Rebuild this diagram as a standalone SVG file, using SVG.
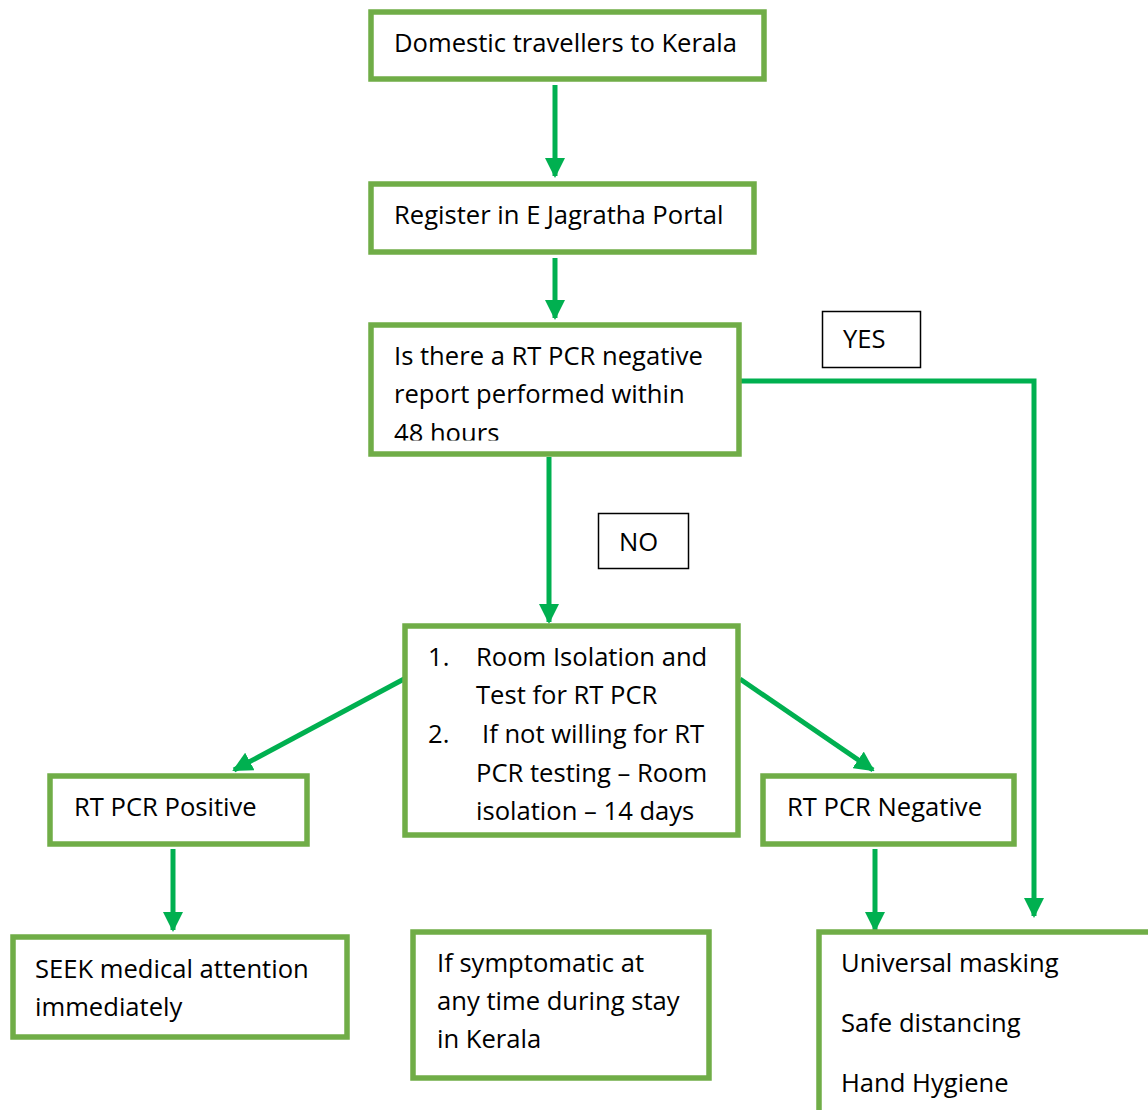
<svg xmlns="http://www.w3.org/2000/svg" width="1148" height="1110" viewBox="0 0 1148 1110">
<style>
.box{fill:#fff;stroke:#70AD47;stroke-width:5.5}
.lbl{fill:#fff;stroke:#000;stroke-width:1.5}
.t{font-family:"Open Sans",Lato,"Liberation Sans",sans-serif;font-size:25.6px;fill:#000}
.c{stroke:#00B050;stroke-width:5;fill:none}
</style>
<defs>
<marker id="ah" markerWidth="4" markerHeight="4" refX="3.6" refY="2" orient="auto" markerUnits="strokeWidth" viewBox="0 0 4 4">
<path d="M0,0 L4,2 L0,4 Z" fill="#00B050"/>
</marker>
<clipPath id="clip3"><rect x="371" y="325" width="368" height="115.5"/></clipPath>
</defs>
<g id="connectors">
<line class="c" x1="555" y1="85" x2="555" y2="176" marker-end="url(#ah)"/>
<line class="c" x1="555" y1="258" x2="555" y2="318" marker-end="url(#ah)"/>
<polyline class="c" points="741,381 1034,381 1034,916" marker-end="url(#ah)"/>
<line class="c" x1="549" y1="457" x2="549" y2="622" marker-end="url(#ah)"/>
<line class="c" x1="404" y1="679" x2="234" y2="770" marker-end="url(#ah)"/>
<line class="c" x1="740" y1="679" x2="873" y2="770" marker-end="url(#ah)"/>
<line class="c" x1="173" y1="849" x2="173" y2="930" marker-end="url(#ah)"/>
<line class="c" x1="875" y1="849" x2="875" y2="930" marker-end="url(#ah)"/>
</g>
<g id="n1"><rect class="box" x="371" y="12" width="393" height="67"/><text class="t" x="394" y="52">Domestic travellers to Kerala</text></g>
<g id="n2"><rect class="box" x="371" y="184" width="383" height="68"/><text class="t" x="394" y="224">Register in E Jagratha Portal</text></g>
<g id="n3"><rect class="box" x="371" y="325" width="368" height="129"/>
<g clip-path="url(#clip3)"><text class="t" x="394" y="365">Is there a RT PCR negative</text><text class="t" x="394" y="403">report performed within</text><text class="t" x="394" y="442">48 hours</text></g></g>
<g id="yes"><rect class="lbl" x="822.5" y="311.5" width="98" height="56"/><text class="t" x="843" y="348">YES</text></g>
<g id="no"><rect class="lbl" x="598.5" y="513.5" width="90" height="55"/><text class="t" x="619" y="551">NO</text></g>
<g id="n4"><rect class="box" x="405" y="626" width="333" height="209"/>
<text class="t" x="428" y="666">1.</text><text class="t" x="476" y="666">Room Isolation and</text>
<text class="t" x="476" y="704">Test for RT PCR</text>
<text class="t" x="428" y="743">2.</text><text class="t" x="482" y="743">If not willing for RT</text>
<text class="t" x="476" y="782">PCR testing – Room</text>
<text class="t" x="476" y="820">isolation – 14 days</text></g>
<g id="n5"><rect class="box" x="50" y="776" width="257" height="68"/><text class="t" x="74" y="816">RT PCR Positive</text></g>
<g id="n6"><rect class="box" x="763" y="776" width="251" height="68"/><text class="t" x="787" y="816">RT PCR Negative</text></g>
<g id="n7"><rect class="box" x="13" y="937" width="334" height="100"/><text class="t" x="35" y="978">SEEK medical attention</text><text class="t" x="35" y="1016">immediately</text></g>
<g id="n8"><rect class="box" x="413" y="932" width="296" height="146"/><text class="t" x="437" y="972">If symptomatic at</text><text class="t" x="437" y="1010">any time during stay</text><text class="t" x="437" y="1048">in Kerala</text></g>
<g id="n9"><rect class="box" x="819" y="932" width="340" height="190"/><text class="t" x="841" y="972">Universal masking</text><text class="t" x="841" y="1032">Safe distancing</text><text class="t" x="841" y="1092">Hand Hygiene</text></g>
</svg>
